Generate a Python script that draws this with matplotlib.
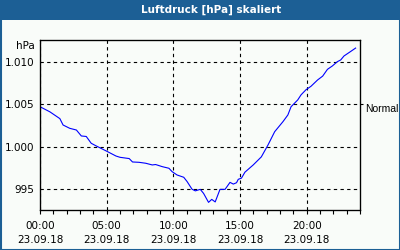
import matplotlib
matplotlib.use("Agg")
import matplotlib.pyplot as plt
from matplotlib.patches import Rectangle
from matplotlib.ticker import FixedLocator, FuncFormatter

title = "Luftdruck [hPa] skaliert"
unit = "hPa"
x_tick_hours = [0, 5, 10, 15, 20]
x_tick_labels = ["00:00\n23.09.18", "05:00\n23.09.18", "10:00\n23.09.18",
                 "15:00\n23.09.18", "20:00\n23.09.18"]
y_ticks = [995, 1000, 1005, 1010]
normal_value = 1005
normal_label = "Normal"

hours = [0.0, 0.74, 1.49, 1.73, 2.23, 2.73, 3.1, 3.47, 3.84, 4.2, 4.96, 5.7, 6.0,
         6.69, 6.94, 7.43, 7.93, 8.42, 8.67, 9.17, 9.67, 9.91, 10.28, 10.78, 11.03,
         11.4, 11.65, 12.02, 12.27, 12.64, 12.88, 13.14, 13.5, 13.88, 14.25, 14.5,
         14.74, 14.87, 15.11, 15.37, 15.99, 16.6, 17.1, 17.6, 18.22, 18.59, 18.83,
         19.33, 19.58, 19.95, 20.32, 20.82, 21.2, 21.56, 21.93, 22.3, 22.55, 22.8,
         23.3, 23.67]
pressure = [1004.7, 1004.1, 1003.3, 1002.55, 1002.16, 1001.96, 1001.26, 1001.2,
            1000.4, 1000.1, 999.5, 998.9, 998.75, 998.6, 998.2, 998.16, 998.05,
            997.85, 997.9, 997.65, 997.46, 997.06, 996.67, 996.4, 995.9, 995.0,
            994.8, 994.98, 994.5, 993.45, 993.8, 993.5, 994.98, 994.98, 995.8,
            995.6, 995.76, 996.16, 996.3, 997.0, 997.85, 998.8, 1000.2, 1001.76,
            1002.94, 1003.73, 1004.7, 1005.5, 1006.1, 1006.7, 1007.1, 1007.85,
            1008.3, 1009.1, 1009.5, 1010.0, 1010.2, 1010.67, 1011.2, 1011.6]

blue = "#1c5f95"
bg = "#f9fcf9"

fig = plt.figure(figsize=(4, 2.5), dpi=100, facecolor=bg)

# title bar and border
fig.patches.append(Rectangle((0, 230 / 250), 1, 20 / 250, transform=fig.transFigure,
                             facecolor=blue, edgecolor="none", zorder=0))
fig.patches.append(Rectangle((0.5 / 400, 0.5 / 250), 399 / 400, 249 / 250,
                             transform=fig.transFigure, facecolor="none",
                             edgecolor=blue, linewidth=1.5, zorder=5))
fig.text(211 / 400, 240 / 250, title, color="white", fontsize=7.5, fontweight="bold",
         ha="center", va="center")

ax = fig.add_axes([40 / 400, 40 / 250, 320 / 400, 170 / 250])
ax.set_facecolor(bg)
ax.plot(hours, pressure, color="#0000ff", linewidth=0.8)
ax.set_xlim(0, 24)
ax.set_ylim(992.55, 1012.55)

ax.xaxis.set_major_locator(FixedLocator(x_tick_hours))
ax.xaxis.set_minor_locator(FixedLocator(list(range(0, 25))))
ax.set_xticklabels(x_tick_labels, fontsize=7.5, linespacing=1.5)
ax.tick_params(axis="x", which="both", direction="out", length=3, width=0.8, pad=5)

ax.yaxis.set_major_locator(FixedLocator(y_ticks))
ax.yaxis.set_major_formatter(FuncFormatter(lambda v, p: f"{int(round(v)):,}".replace(",", ".")))
ax.tick_params(axis="y", which="both", length=0, pad=4, labelsize=7.5)

for s in ax.spines.values():
    s.set_linewidth(0.9)
    s.set_color("black")

ax.grid(True, which="major", color="black", linestyle=(0, (3, 3)), linewidth=0.8)

ax2 = ax.twinx()
ax2.set_ylim(ax.get_ylim())
ax2.set_yticks([normal_value])
ax2.set_yticklabels([normal_label], fontsize=7.5, va="top", family="Liberation Sans")
ax2.tick_params(axis="y", length=2, width=0.8, pad=2)

fig.text(35 / 400, 204 / 250, unit, fontsize=7.5, ha="right", va="center")

fig.savefig("out.png", dpi=100, facecolor=bg)
